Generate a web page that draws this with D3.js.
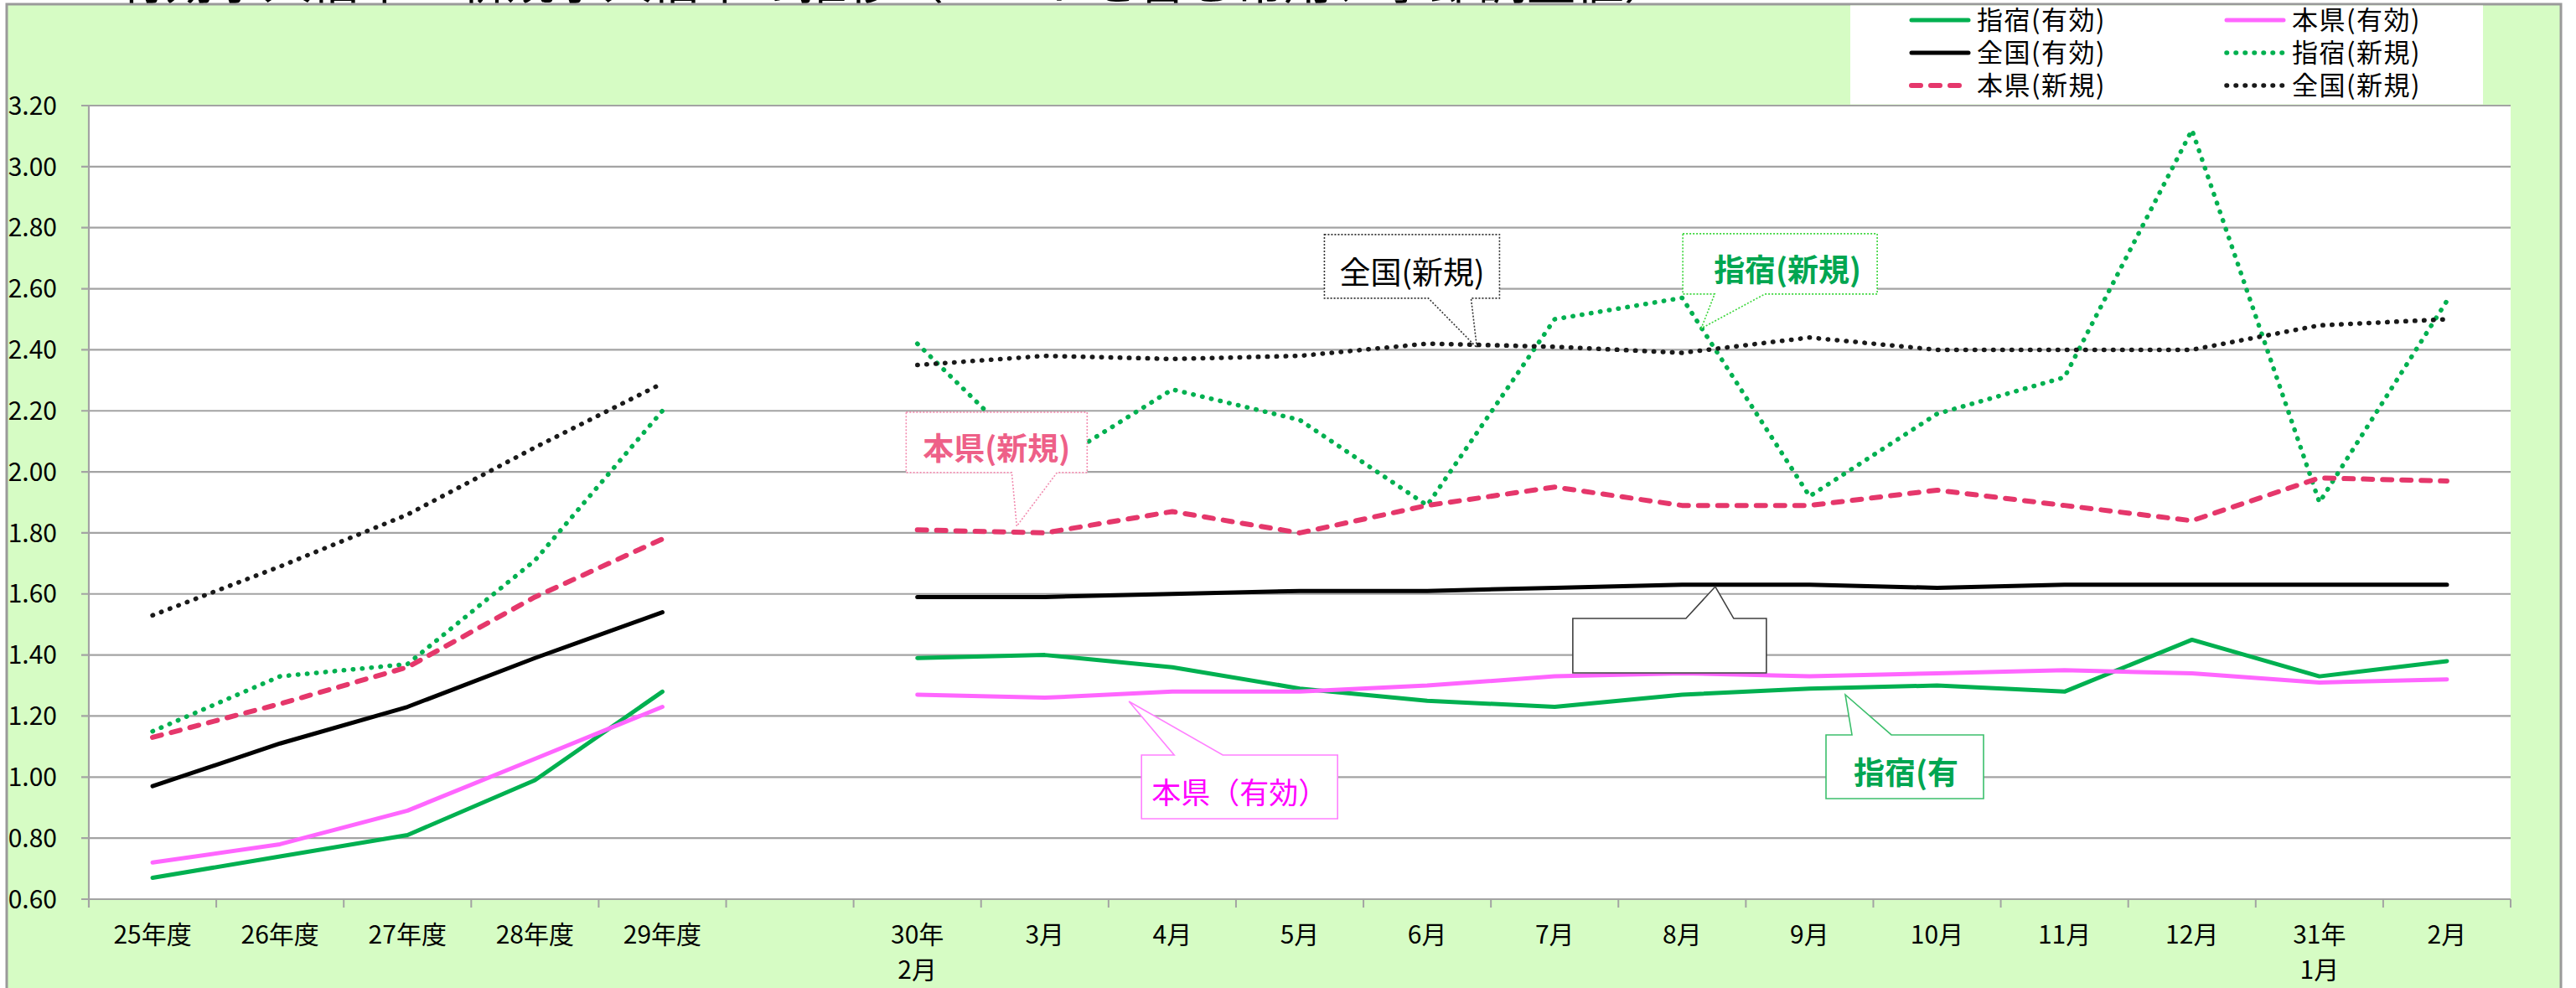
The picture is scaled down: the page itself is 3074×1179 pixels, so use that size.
<!DOCTYPE html>
<html><head><meta charset="utf-8">
<script src="https://cdn.jsdelivr.net/npm/d3@7"></script>
<style>html,body{margin:0;padding:0;background:#fff;}svg{display:block;}</style>
</head><body>
<svg id="chart" width="3074" height="1179"></svg>
<script>
// ---- data ----
const categories = ["25年度","26年度","27年度","28年度","29年度","","30年\n2月","3月","4月","5月","6月","7月","8月","9月","10月","11月","12月","31年\n1月","2月"];
const ibusukiYuko  = [0.67,0.74,0.81,0.99,1.28,null,1.39,1.40,1.36,1.29,1.25,1.23,1.27,1.29,1.30,1.28,1.45,1.33,1.38];
const honkenYuko   = [0.72,0.78,0.89,1.06,1.23,null,1.27,1.26,1.28,1.28,1.30,1.33,1.34,1.33,1.34,1.35,1.34,1.31,1.32];
const zenkokuYuko  = [0.97,1.11,1.23,1.39,1.54,null,1.59,1.59,1.60,1.61,1.61,1.62,1.63,1.63,1.62,1.63,1.63,1.63,1.63];
const ibusukiShinki= [1.15,1.33,1.37,1.71,2.20,null,2.42,2.01,2.27,2.17,1.89,2.50,2.57,1.92,2.19,2.31,3.12,1.90,2.56];
const honkenShinki = [1.13,1.24,1.36,1.59,1.78,null,1.81,1.80,1.87,1.80,1.89,1.95,1.89,1.89,1.94,1.89,1.84,1.98,1.97];
const zenkokuShinki= [1.53,1.69,1.86,2.08,2.29,null,2.35,2.38,2.37,2.38,2.42,2.41,2.39,2.44,2.40,2.40,2.40,2.48,2.50];
const seriesNames  = ["指宿(有効)","本県(有効)","全国(有効)","指宿(新規)","本県(新規)","全国(新規)"];
const yTicks = [0.6,0.8,1.0,1.2,1.4,1.6,1.8,2.0,2.2,2.4,2.6,2.8,3.0,3.2];
const titleText = "有効求人倍率・新規求人倍率の推移（パートを含む常用、季節調整値）";

// ---- styles / layout ----
const FONT = "'Noto Sans CJK JP','Noto Sans',sans-serif";
const seriesStyles = [
  {color:"#00b050", width:5, dash:null, cap:"round"},
  {color:"#ff66ff", width:5, dash:null, cap:"round"},
  {color:"#000000", width:5, dash:null, cap:"round"},
  {color:"#00b050", width:5.5, dash:"0.5,10.5", cap:"round"},
  {color:"#e5376b", width:6, dash:"11,12", cap:"round"},
  {color:"#1a1a1a", width:5.5, dash:"0.5,10.5", cap:"round"}
];
const seriesData = [ibusukiYuko, honkenYuko, zenkokuYuko, ibusukiShinki, honkenShinki, zenkokuShinki];

const svg = d3.select("#chart");
const W = 3074, H = 1179;
const plot = {left:106, right:2996, top:126, bottom:1073};

const x = d3.scaleBand().domain(d3.range(categories.length)).range([plot.left, plot.right]).paddingInner(0).paddingOuter(0);
const y = d3.scaleLinear().domain([0.6, 3.2]).range([plot.bottom, plot.top]);
const cx = i => x(0) + x.bandwidth() * (i + 0.5);

// title (mostly cut off above the canvas, as in the source)
svg.append("text").attr("x", 140).attr("y", -1).attr("font-family", FONT).attr("font-size", 58)
  .attr("fill", "#000").text(titleText);

// chart area background
svg.append("rect").attr("x", 8).attr("y", 5).attr("width", 3048).attr("height", H + 20)
  .attr("fill", "rgb(214,252,196)").attr("stroke", "#9a9a9a").attr("stroke-width", 3);

// legend background
svg.append("rect").attr("x", 2208).attr("y", 6.5).attr("width", 755).attr("height", 118).attr("fill", "#fff");

// plot background
svg.append("rect").attr("x", plot.left).attr("y", plot.top).attr("width", plot.right - plot.left)
  .attr("height", plot.bottom - plot.top).attr("fill", "#fff");

// gridlines + y ticks
const gGrid = svg.append("g");
yTicks.forEach(v => {
  gGrid.append("line").attr("x1", plot.left - 9).attr("x2", plot.right)
    .attr("y1", y(v)).attr("y2", y(v)).attr("stroke", "#a3a3a3").attr("stroke-width", 2.2);
});
// y axis (labels)
const yAxis = d3.axisLeft(y).tickValues(yTicks).tickFormat(d3.format(".2f")).tickSize(0).tickPadding(0);
const gy = svg.append("g").attr("transform", `translate(68,0)`).call(yAxis);
gy.select(".domain").remove();
gy.selectAll("text").attr("font-family", FONT).attr("font-size", 30).attr("fill", "#000").attr("dy", "0.34em");

// axis lines
svg.append("line").attr("x1", plot.left).attr("x2", plot.left).attr("y1", plot.top).attr("y2", plot.bottom + 10)
  .attr("stroke", "#a3a3a3").attr("stroke-width", 2.2);
// x ticks at category boundaries
const gx = svg.append("g");
d3.range(categories.length + 1).forEach(i => {
  const xx = plot.left + x.bandwidth() * i;
  gx.append("line").attr("x1", xx).attr("x2", xx).attr("y1", plot.bottom).attr("y2", plot.bottom + 10)
    .attr("stroke", "#a3a3a3").attr("stroke-width", 2);
});
// x labels
categories.forEach((c, i) => {
  if (!c) return;
  const lines = c.split("\n");
  const t = gx.append("text").attr("x", cx(i)).attr("y", 1126).attr("text-anchor", "middle")
    .attr("font-family", FONT).attr("font-size", 30).attr("fill", "#000");
  lines.forEach((ln, k) => {
    t.append("tspan").attr("x", cx(i)).attr("y", 1126 + k * 42).text(ln);
  });
});

// series lines
const line = d3.line().defined(d => d != null).x((d, i) => cx(i)).y(d => y(d));
const drawOrder = [0, 1, 2, 3, 4, 5];
drawOrder.forEach(k => {
  const s = seriesStyles[k];
  const p = svg.append("path").datum(seriesData[k]).attr("d", line)
    .attr("fill", "none").attr("stroke", s.color).attr("stroke-width", s.width)
    .attr("stroke-linejoin", "round").attr("stroke-linecap", s.cap);
  if (s.dash) p.attr("stroke-dasharray", s.dash);
});

// legend
const legendPos = [
  {lx:2281, tx:2359, y:24},{lx:2657, tx:2735, y:24},
  {lx:2281, tx:2359, y:63},{lx:2657, tx:2735, y:63},
  {lx:2281, tx:2359, y:102},{lx:2657, tx:2735, y:102}
];
const gLeg = svg.append("g");
seriesNames.forEach((n, k) => {
  const s = seriesStyles[k], p = legendPos[k];
  const l = gLeg.append("line").attr("x1", p.lx).attr("x2", p.lx + 68).attr("y1", p.y).attr("y2", p.y)
    .attr("stroke", s.color).attr("stroke-width", s.width).attr("stroke-linecap", s.cap);
  if (s.dash) l.attr("stroke-dasharray", s.dash);
  gLeg.append("text").attr("x", p.tx).attr("y", p.y + 11).attr("font-family", FONT).attr("font-size", 31)
    .attr("letter-spacing", 1.5).attr("fill", "#000").text(n);
});

// callouts (tip anchored in data space; box offsets in px relative to tip)
const callouts = [
  {text:"全国(新規)", tipI:10.39, tipV:2.407, box:[-182,-135,27,-59], base:[-58,-7], side:"bottom",
   stroke:"#333", dash:"2,2", color:"#000", weight:400, size:37, anchor:"middle", tdx:0},
  {text:"指宿(新規)", tipI:12.15, tipV:2.47, box:[-22,-113,210,-41], base:[16,76], side:"bottom",
   stroke:"#3ad63a", dash:"2,2", color:"#00a651", weight:700, size:37, anchor:"middle", tdx:9},
  {text:"本県(新規)", tipI:6.78, tipV:1.822, box:[-132,-136,84,-64], base:[-6,48], side:"bottom",
   stroke:"#f28db0", dash:"2,2", color:"#ee6088", weight:700, size:37, anchor:"middle", tdx:0},
  {text:"", tipI:12.26, tipV:1.624, box:[-170,38,61,103], base:[-35,22], side:"top",
   stroke:"#404040", dash:null, color:"#000", weight:400, size:36, anchor:"middle", tdx:0},
  {text:"指宿(有", tipI:13.28, tipV:1.27, box:[-23,48,165,124], base:[8,55], side:"top",
   stroke:"#3cbf6c", dash:null, color:"#00a651", weight:700, size:37, anchor:"start", tdx:33},
  {text:"本県（有効）", tipI:7.66, tipV:1.248, box:[15,64,249,140], base:[54,112], side:"top",
   stroke:"#ff80ff", dash:null, color:"#ff00ff", weight:400, size:35, anchor:"middle", tdx:0}
];
const gC = svg.append("g");
callouts.forEach(c => {
  const tx = cx(c.tipI), ty = y(c.tipV);
  const x0 = tx + c.box[0], y0 = ty + c.box[1], x1 = tx + c.box[2], y1 = ty + c.box[3];
  const b0 = tx + c.base[0], b1 = tx + c.base[1];
  const pth = d3.path();
  if (c.side === "bottom") {
    pth.moveTo(x0, y0); pth.lineTo(x1, y0); pth.lineTo(x1, y1); pth.lineTo(b1, y1);
    pth.lineTo(tx, ty); pth.lineTo(b0, y1); pth.lineTo(x0, y1); pth.closePath();
  } else {
    pth.moveTo(x0, y0); pth.lineTo(b0, y0); pth.lineTo(tx, ty); pth.lineTo(b1, y0);
    pth.lineTo(x1, y0); pth.lineTo(x1, y1); pth.lineTo(x0, y1); pth.closePath();
  }
  const shape = gC.append("path").attr("d", pth.toString()).attr("fill", "#fff")
    .attr("stroke", c.stroke).attr("stroke-width", 1.6);
  if (c.dash) shape.attr("stroke-dasharray", c.dash);
  if (c.text) {
    const txX = c.anchor === "middle" ? (x0 + x1) / 2 + c.tdx : x0 + c.tdx;
    const baseY = (y0 + y1) / 2 + 7 + 0.38 * c.size;
    gC.append("text").attr("x", txX).attr("y", baseY).attr("text-anchor", c.anchor)
      .attr("font-family", FONT).attr("font-size", c.size).attr("font-weight", c.weight)
      .attr("fill", c.color).text(c.text);
  }
});
</script>
</body></html>
